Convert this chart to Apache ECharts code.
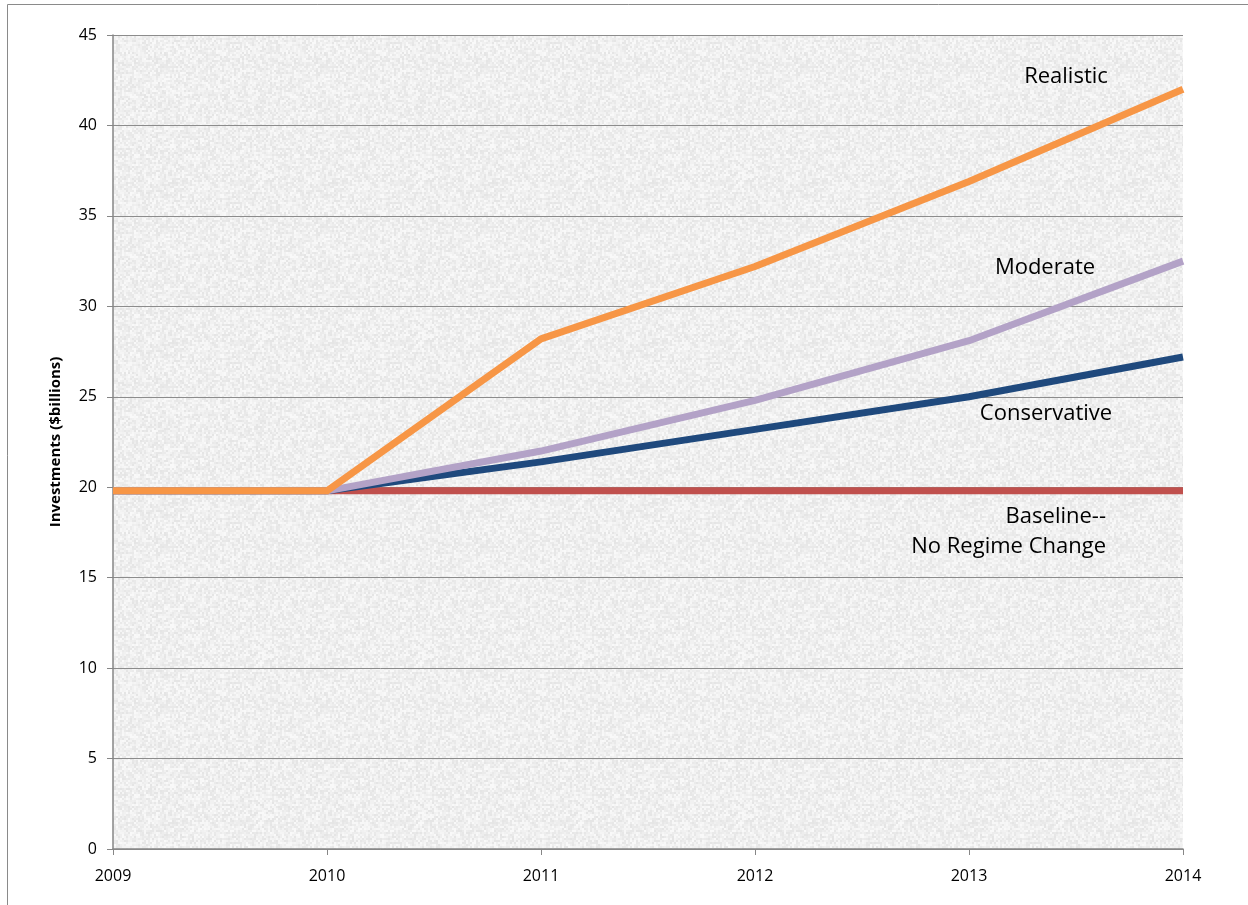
<!DOCTYPE html>
<html>
<head>
<meta charset="utf-8">
<script src="https://cdn.jsdelivr.net/npm/echarts@6/dist/echarts.min.js"></script>
<style>
  html, body { margin: 0; padding: 0; background: #fff; }
  #chart { width: 1248px; height: 905px; }
</style>
</head>
<body>
<div id="chart"></div>
<script>
// data
var years = ['2009', '2010', '2011', '2012', '2013', '2014'];
var baseline = [19.8, 19.8, 19.8, 19.8, 19.8, 19.8];
var conservative = [19.8, 19.8, 21.4, 23.2, 25.0, 27.2];
var moderate = [19.8, 19.8, 22.0, 24.8, 28.1, 32.5];
var realistic = [19.8, 19.8, 28.2, 32.2, 36.9, 42.0];

// granite-ish background tile (styling only)
function makeTexture() {
  var c = document.createElement('canvas');
  c.width = 160; c.height = 160;
  var ctx = c.getContext('2d');
  ctx.fillStyle = '#f0f0f0';
  ctx.fillRect(0, 0, 160, 160);
  var seed = 12345;
  for (var y = 0; y < 160; y += 2) {
    for (var x = 0; x < 160; x += 2) {
      seed = (seed * 1103515245 + 12345) & 0x7fffffff;
      var v = 249 - (seed % 22);
      ctx.fillStyle = 'rgb(' + v + ',' + v + ',' + v + ')';
      ctx.fillRect(x, y, 2, 2);
    }
  }
  return c;
}

var chart = echarts.init(document.getElementById('chart'));
var font = '"Open Sans", "Liberation Sans", sans-serif';

function line(name, data, color, z) {
  return {
    name: name, type: 'line', data: data, z: z,
    symbol: 'none', silent: true,
    lineStyle: { color: color, width: 7, cap: 'butt', join: 'round' }
  };
}

var option = {
  animation: false,
  backgroundColor: '#fff',
  grid: {
    left: 113, right: 65, top: 35, bottom: 56,
    show: true, borderWidth: 0,
    backgroundColor: { image: makeTexture(), repeat: 'repeat' }
  },
  xAxis: {
    type: 'category', data: years, boundaryGap: false,
    axisLine: { lineStyle: { color: '#868686', width: 1.5 } },
    axisTick: { show: true, length: 6, alignWithLabel: true, lineStyle: { color: '#868686' } },
    axisLabel: { color: '#000', fontSize: 16, fontFamily: font, margin: 19 },
    splitLine: { show: false }
  },
  yAxis: {
    type: 'value', min: 0, max: 45, interval: 5,
    name: 'Investments ($billions)', nameLocation: 'middle', nameRotate: 90, nameGap: 50,
    nameTextStyle: { color: '#000', fontSize: 15, fontWeight: 'bold', fontFamily: font },
    axisLine: { show: true, lineStyle: { color: '#868686', width: 1.5 } },
    axisTick: { show: true, length: 6, lineStyle: { color: '#868686' } },
    axisLabel: { color: '#000', fontSize: 16, fontFamily: font, margin: 16 },
    splitLine: { lineStyle: { color: '#8c8c8c', width: 1 } }
  },
  series: [
    line('Baseline', baseline, '#c0504d', 2),
    line('Conservative', conservative, '#1f497d', 3),
    line('Moderate', moderate, '#b3a2c7', 4),
    line('Realistic', realistic, '#f79646', 5)
  ],
  graphic: [
    { type: 'rect', shape: { x: 7.5, y: 4.5, width: 1300, height: 1000 }, style: { fill: 'none', stroke: '#8a8a8a', lineWidth: 1 }, z: 100 },
    { type: 'text', x: 1066, y: 77, style: { text: 'Realistic', fill: '#000', font: '22px ' + font, textAlign: 'center', textVerticalAlign: 'middle' }, z: 100 },
    { type: 'text', x: 1045, y: 268, style: { text: 'Moderate', fill: '#000', font: '22px ' + font, textAlign: 'center', textVerticalAlign: 'middle' }, z: 100 },
    { type: 'text', x: 1046, y: 414, style: { text: 'Conservative', fill: '#000', font: '22px ' + font, textAlign: 'center', textVerticalAlign: 'middle' }, z: 100 },
    { type: 'text', x: 1106, y: 517, style: { text: 'Baseline--', fill: '#000', font: '22px ' + font, textAlign: 'right', textVerticalAlign: 'middle' }, z: 100 },
    { type: 'text', x: 1106, y: 547, style: { text: 'No Regime Change', fill: '#000', font: '22px ' + font, textAlign: 'right', textVerticalAlign: 'middle' }, z: 100 }
  ]
};
chart.setOption(option);
</script>
</body>
</html>
